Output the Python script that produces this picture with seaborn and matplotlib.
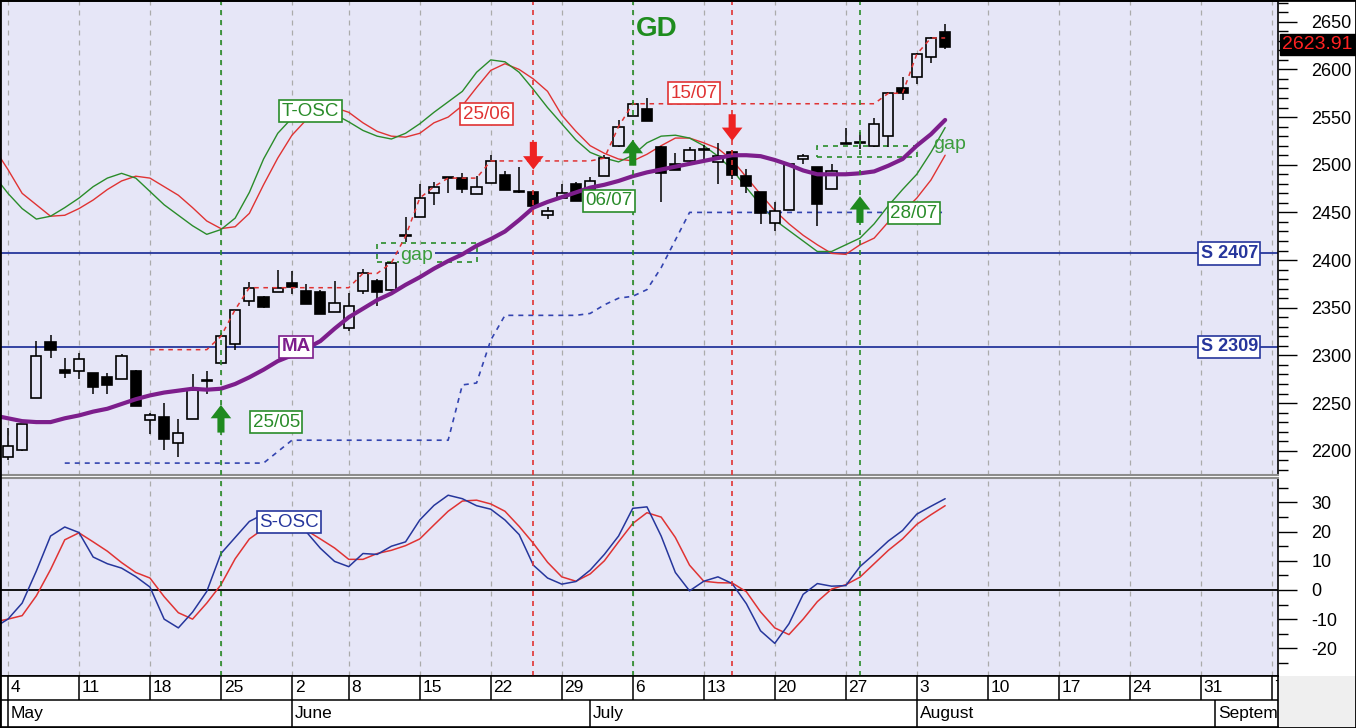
import numpy as np
import matplotlib
matplotlib.use("Agg")
import matplotlib.pyplot as plt
from matplotlib.patches import Rectangle
from matplotlib.ticker import MultipleLocator
import seaborn as sns

sns.set_style("white")
plt.rcParams['font.family'] = ['Liberation Sans', 'DejaVu Sans']
plt.rcParams['axes.unicode_minus'] = False

# ---------------- data ----------------
week_labels = ["4", "11", "18", "25", "2", "8", "15", "22", "29", "6", "13",
               "20", "27", "3", "10", "17", "24", "31", "7"]
week_starts = [0, 5, 10, 15, 20, 24, 29, 34, 39, 44, 49, 54, 59, 64, 69, 74, 79, 84, 89]
month_labels = ["May", "June", "July", "August", "September"]
month_starts = [0, 20, 41, 64, 85]

opens = [2193, 2201, 2255, 2314, 2285, 2284, 2281, 2277, 2275, 2284,
         2232, 2235, 2208, 2233, 2274, 2292, 2312, 2357, 2361, 2367,
         2376, 2368, 2366, 2345, 2329, 2368, 2378, 2369, 2426, 2445,
         2470, 2487, 2486, 2469, 2481, 2489, 2472, 2471, 2447, 2465,
         2480, 2474, 2488, 2520, 2551, 2559, 2519, 2501, 2504, 2517,
         2503, 2513, 2488, 2471, 2439, 2453, 2506, 2498, 2475, 2523,
         2524, 2520, 2530, 2581, 2592, 2613, 2639]
highs = [2224, 2228, 2315, 2321, 2297, 2302, 2281, 2282, 2301, 2285,
         2240, 2250, 2233, 2280, 2284, 2323, 2348, 2377, 2362, 2390,
         2389, 2375, 2369, 2378, 2365, 2391, 2380, 2398, 2445, 2480,
         2482, 2487, 2491, 2488, 2510, 2493, 2498, 2472, 2456, 2480,
         2482, 2487, 2510, 2547, 2566, 2570, 2520, 2512, 2519, 2521,
         2523, 2515, 2496, 2471, 2461, 2502, 2511, 2498, 2501, 2539,
         2534, 2549, 2576, 2592, 2617, 2634, 2648]
lows = [2190, 2200, 2255, 2297, 2276, 2275, 2259, 2259, 2275, 2247,
        2218, 2201, 2193, 2233, 2260, 2291, 2306, 2352, 2350, 2367,
        2364, 2354, 2343, 2345, 2326, 2364, 2352, 2369, 2419, 2445,
        2458, 2470, 2470, 2469, 2481, 2473, 2470, 2455, 2443, 2465,
        2462, 2474, 2488, 2519, 2551, 2546, 2461, 2495, 2501, 2503,
        2480, 2485, 2470, 2438, 2431, 2453, 2501, 2436, 2475, 2522,
        2517, 2519, 2519, 2568, 2585, 2607, 2621]
closes = [2205, 2228, 2299, 2306, 2281, 2296, 2267, 2269, 2299, 2247,
          2237, 2212, 2219, 2264, 2273, 2320, 2348, 2371, 2351, 2371,
          2372, 2354, 2343, 2355, 2352, 2386, 2366, 2397, 2425, 2465,
          2477, 2486, 2475, 2477, 2504, 2474, 2471, 2457, 2451, 2470,
          2462, 2483, 2507, 2540, 2564, 2546, 2491, 2495, 2515, 2516,
          2509, 2489, 2478, 2449, 2452, 2501, 2509, 2459, 2493, 2522,
          2523, 2543, 2575, 2575, 2616, 2633, 2624]
last_price_label = "2623.91"

# indicator series start one day before the first candle (index -1)
ma = [2237, 2234, 2231, 2230, 2230, 2234, 2237, 2241, 2244, 2249,
      2254, 2258, 2261, 2263, 2265, 2264, 2265, 2270, 2277, 2285,
      2294, 2300, 2307, 2315, 2328, 2340, 2349, 2358, 2365, 2374,
      2382, 2391, 2399, 2406, 2415, 2422, 2430, 2442, 2455, 2461,
      2466, 2471, 2476, 2479, 2483, 2488, 2492, 2495, 2498, 2501,
      2504, 2507, 2510, 2510, 2509, 2505, 2500, 2494, 2490, 2490,
      2490, 2491, 2493, 2499, 2506, 2520, 2532, 2547]
tosc_fast = [2489, 2470, 2454, 2443, 2446, 2455, 2465, 2477, 2486, 2491,
             2486, 2472, 2458, 2447, 2436, 2427, 2432, 2444, 2471, 2506,
             2533, 2549, 2554, 2557, 2553, 2545, 2536, 2530, 2527, 2533,
             2543, 2555, 2566, 2577, 2597, 2610, 2608, 2597, 2579, 2560,
             2543, 2526, 2513, 2507, 2503, 2510, 2523, 2530, 2531, 2528,
             2520, 2509, 2495, 2476, 2458, 2442, 2431, 2420, 2409, 2409,
             2416, 2423, 2438, 2457, 2474, 2490, 2513, 2539]
tosc_slow = [2518, 2495, 2470, 2458, 2446, 2447, 2454, 2463, 2474, 2483,
             2488, 2486, 2477, 2468, 2455, 2441, 2433, 2435, 2449, 2479,
             2507, 2531, 2547, 2556, 2560, 2555, 2544, 2535, 2530, 2529,
             2533, 2544, 2550, 2562, 2581, 2599, 2606, 2600, 2590, 2577,
             2552, 2535, 2520, 2512, 2506, 2504, 2511, 2520, 2528, 2528,
             2523, 2517, 2505, 2487, 2469, 2452, 2438, 2426, 2416, 2407,
             2406, 2416, 2423, 2440, 2450, 2465, 2484, 2510]
sosc_fast = [-13, -10, -4.5, 6.5, 18.5, 21.6, 19.7, 11.3, 9.0, 7.5,
             4.6, 1.0, -10.0, -13.0, -7.6, -0.5, 12.5, 18.0, 23.5, 26,
             26, 24, 20, 14.3, 9.8, 8.0, 12.5, 12.2, 15.0, 16.5,
             24.0, 29.0, 32.5, 31.3, 28.9, 27.7, 24.0, 19.0, 8.5, 4.1,
             2.0, 2.9, 6.8, 12.2, 18.5, 28.0, 28.5, 18.5, 6.0, -0.3,
             3.0, 4.5, 2.2, -4.7, -14.0, -18.3, -11.6, -1.5, 2.2, 1.3,
             1.5, 8.0, 12.3, 16.8, 20.4, 26.0, 28.7, 31.3]
sosc_slow = [-11, -10, -8.8, -2, 7, 17.2, 19.6, 16.5, 13.3, 9.4,
             6.0, 4.1, -2.3, -7.8, -10.0, -4.5, 1.8, 10.7, 17.5, 21,
             22.5, 22, 20.5, 17.5, 14.4, 10.5, 10.5, 12.5, 13.6, 15.2,
             17.5, 22.3, 27.0, 30.5, 30.8, 29.5, 27.0, 21.8, 16, 9.5,
             4.5, 3.0, 5.5, 10.0, 16.5, 22.8, 26.5, 25.0, 18.0, 8.5,
             3.0, 2.5, 2.4, -0.6, -7.5, -13.0, -15.3, -10.0, -4.0, 0.3,
             1.8, 4.4, 9.0, 13.6, 17.5, 22.5, 25.8, 28.9]
# highest-close line (red dashed), days 10..66
resist_start = 10
resistance = [2306, 2306, 2306, 2306, 2306, 2320, 2348, 2371,
              2371, 2371, 2371, 2371, 2371, 2371, 2371,
              2386, 2386, 2397, 2425, 2465, 2477, 2486, 2486, 2486,
              2504, 2504, 2504, 2504, 2504, 2504, 2504, 2504,
              2507, 2540,
              2564, 2564, 2564, 2564, 2564, 2564, 2564, 2564, 2564,
              2564, 2564, 2564, 2564, 2564, 2564, 2564, 2564, 2564,
              2575, 2575, 2616, 2633, 2633]
# trailing stop (blue dotted), days 4..66
stop_start = 4
trail_stop = [2187] * 15 + [2199] + [2211] * 12 + \
             [2269, 2271, 2316, 2342] + [2342] * 5 + \
             [2344, 2353, 2360, 2362, 2369, 2392, 2421, 2450] + [2450] * 18
support_levels = [2407, 2309]
support_labels = ["S 2407", "S 2309"]
buy_days = [15, 44, 60]
buy_labels = ["25/05", "06/07", "28/07"]
sell_days = [37, 51]
sell_labels = ["25/06", "15/07"]
gaps = [(26, 33, 2398, 2418), (57, 64, 2508, 2520)]

# ---------------- styling ----------------
BG = '#e6e6f7'
GREEN = '#2a8c2a'
RED = '#e03333'
NAVY = '#26369c'
PURPLE = '#7d1e8c'
GRID = '#ababab'

W, H = 1356.0, 728.0
fig = plt.figure(figsize=(W / 100, H / 100), dpi=100)
fig.patch.set_facecolor('white')


def rect(x0, y0, x1, y1):
    return [x0 / W, 1 - y1 / H, (x1 - x0) / W, (y1 - y0) / H]


ax = fig.add_axes(rect(0, 1, 1278, 475))
ax2 = fig.add_axes(rect(0, 478, 1278, 676))
ax3 = fig.add_axes(rect(0, 676, 1278, 727))
XL = (-0.56, 89.44)
for a in (ax, ax2, ax3):
    a.set_xlim(*XL)
ax.set_ylim(2174.5, 2671.8)
ax2.set_ylim(-29.5, 38.4)
ax.set_facecolor(BG)
ax2.set_facecolor(BG)
ax3.set_facecolor('white')

ext_days = np.arange(-1, len(closes))
days = np.arange(len(closes))

# weekly grid + signal lines
for a in (ax, ax2):
    for w in week_starts:
        a.axvline(w, color=GRID, lw=0.9, ls=(0, (4, 4)), zorder=1)
    for d in buy_days:
        a.axvline(d, color=GREEN, lw=1.2, ls=(0, (3, 3)), zorder=8)
    for d in sell_days:
        a.axvline(d, color=RED, lw=1.2, ls=(0, (3, 3)), zorder=8)

# support lines
for lvl, lab in zip(support_levels, support_labels):
    ax.axhline(lvl, color=NAVY, lw=1.3, zorder=2)
    ax.text(86.0, lvl, lab, ha='center', va='center', color=NAVY, fontsize=13,
            fontweight='bold', zorder=10,
            bbox=dict(boxstyle='square,pad=0.15', fc='white', ec=NAVY, lw=1.2))

# T-OSC
sns.lineplot(x=ext_days, y=tosc_slow, ax=ax, color=RED, lw=1.0, zorder=3)
sns.lineplot(x=ext_days, y=tosc_fast, ax=ax, color=GREEN, lw=1.0, zorder=3)

# gap boxes
for x0, x1, y0, y1 in gaps:
    ax.add_patch(Rectangle((x0, y0), x1 - x0, y1 - y0, fill=False, ec=GREEN,
                           lw=1.2, ls=(0, (3, 3)), zorder=3))
ax.text(28.8, 2405, "gap", ha='center', va='center', color='#3c9c3c', fontsize=14,
        zorder=4, bbox=dict(boxstyle='square,pad=0.08', fc=BG, ec='none'))
ax.text(66.3, 2521, "gap", ha='center', va='center', color='#3c9c3c', fontsize=14,
        zorder=4)

# trailing stop
ax.plot(np.arange(stop_start, stop_start + len(trail_stop)), trail_stop,
        color='#3344b0', lw=1.2, ls=(0, (3, 3)), zorder=4)

# candles
body_w = 0.72
for d, o, h, l, c in zip(days, opens, highs, lows, closes):
    top, bot = max(o, c), min(o, c)
    ax.plot([d, d], [top, h], color='black', lw=1.1, zorder=5, solid_capstyle='butt')
    ax.plot([d, d], [l, bot], color='black', lw=1.1, zorder=5, solid_capstyle='butt')
    up = c >= o
    ax.add_patch(Rectangle((d - body_w / 2, bot), body_w, max(top - bot, 1.0),
                           facecolor=BG if up else 'black', edgecolor='black',
                           lw=1.2, zorder=6))

# highest close line
ax.plot(np.arange(resist_start, resist_start + len(resistance)), resistance,
        color=RED, lw=1.1, ls=(0, (3, 3)), zorder=6.5)

# moving average
sns.lineplot(x=ext_days, y=ma, ax=ax, color=PURPLE, lw=3.0, zorder=7)

# arrows
arrow_kw = dict(width=0.5, head_width=1.45, length_includes_head=True, zorder=9)
ax.arrow(15, 2219, 0, 29, head_length=14, color='#1f8a1f', ec='none', **arrow_kw)
ax.arrow(44, 2499, 0, 27, head_length=14, color='#1f8a1f', ec='none', **arrow_kw)
ax.arrow(60, 2439, 0, 28, head_length=14, color='#1f8a1f', ec='none', **arrow_kw)
ax.arrow(37, 2524, 0, -29, head_length=14, color='#ee2222', ec='none', **arrow_kw)
ax.arrow(51, 2553, 0, -28, head_length=14, color='#ee2222', ec='none', **arrow_kw)


def boxed(a, x, y, s, col, **kw):
    a.text(x, y, s, ha='center', va='center', color=col, fontsize=kw.pop('fontsize', 13.5),
           zorder=10, bbox=dict(boxstyle='square,pad=0.13', fc='white', ec=col, lw=1.2), **kw)


boxed(ax, 18.9, 2230, buy_labels[0], GREEN)
boxed(ax, 42.3, 2462, buy_labels[1], GREEN)
boxed(ax, 63.8, 2449, buy_labels[2], GREEN)
boxed(ax, 33.7, 2553, sell_labels[0], RED)
boxed(ax, 48.3, 2575, sell_labels[1], RED)
boxed(ax, 21.3, 2556, "T-OSC", GREEN)
boxed(ax, 20.3, 2309, "MA", PURPLE, fontweight='bold')
ax.text(45.7, 2642, "GD", ha='center', va='center', color='#1e8c1e', fontsize=20,
        fontweight='bold', zorder=10)

# last price tag
ax.annotate(last_price_label, xy=(1.0, 2626), xycoords=('axes fraction', 'data'),
            xytext=(3, 0), textcoords='offset points', ha='left', va='center',
            color='#ff2222', fontsize=14, annotation_clip=False, zorder=12,
            bbox=dict(boxstyle='square,pad=0.12', fc='black', ec='black'))

# S-OSC
ax2.axhline(0, color='black', lw=1.3, zorder=2)
sns.lineplot(x=ext_days, y=sosc_slow, ax=ax2, color=RED, lw=1.1, zorder=3)
sns.lineplot(x=ext_days, y=sosc_fast, ax=ax2, color=NAVY, lw=1.1, zorder=3)
boxed(ax2, 19.8, 23.3, "S-OSC", NAVY)

# axes / ticks
for a, minor, ticks in ((ax, 10, range(2200, 2651, 50)),
                        (ax2, 5, range(-20, 31, 10))):
    a.set_yticks(list(ticks))
    a.yaxis.set_minor_locator(MultipleLocator(minor))
    a.yaxis.tick_right()
    a.tick_params(axis='y', which='major', direction='out', length=14, width=1,
                  color='black', labelsize=13, pad=10, right=True, left=False,
                  labelright=True, labelleft=False, labelcolor='black')
    a.tick_params(axis='y', which='minor', direction='out', length=7, width=1,
                  color='black', right=True, left=False)
    a.set_xticks([])
    a.set_xlabel('')
    a.set_ylabel('')
    a.grid(False)
    for s in a.spines.values():
        s.set_visible(True)
        s.set_color('black')
        s.set_linewidth(1.2)
    if a.get_legend():
        a.get_legend().remove()
ax.spines['bottom'].set_color('#8c8c8c')
ax.spines['bottom'].set_linewidth(1.5)
ax2.spines['top'].set_color('#8c8c8c')
ax2.spines['top'].set_linewidth(1.5)

# date band
ax3.set_ylim(0, 1)
ax3.set_xticks([])
ax3.set_yticks([])
for s in ax3.spines.values():
    s.set_visible(True)
    s.set_color('black')
    s.set_linewidth(1.2)
mid = 0.53
ax3.axhline(mid, color='black', lw=1.1)
ax3.vlines(week_starts, mid, 1, color='black', lw=1.1)
ax3.vlines(month_starts, 0, mid, color='black', lw=1.1)
for w, lab in zip(week_starts, week_labels):
    ax3.text(w + 0.2, (mid + 1) / 2, lab, ha='left', va='center', fontsize=12.5,
             color='black', clip_on=True)
for m, lab in zip(month_starts, month_labels):
    ax3.text(m + 0.2, mid / 2, lab, ha='left', va='center', fontsize=12.5,
             color='black', clip_on=True)

fig.add_artist(Rectangle((1278 / W, 0), (W - 1278) / W, 52 / H,
                         transform=fig.transFigure, fc='#efefef', ec='none', zorder=0))
fig.add_artist(Rectangle((0, 0), 1, 1, transform=fig.transFigure, fill=False,
                         ec='black', lw=2, zorder=20))

fig.savefig("out.png", dpi=100, facecolor=fig.get_facecolor())
